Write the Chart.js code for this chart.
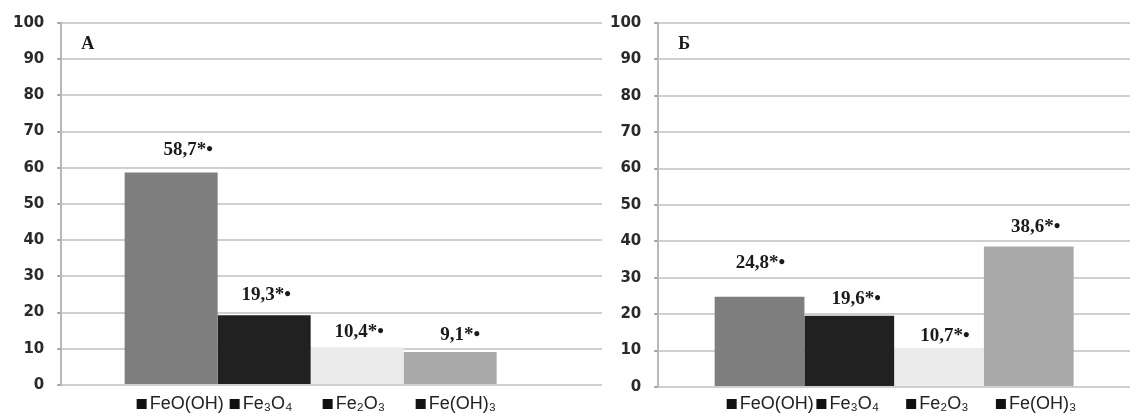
<!DOCTYPE html>
<html>
<head>
<meta charset="utf-8">
<script src="https://cdn.jsdelivr.net/npm/chart.js@4.4.0/dist/chart.umd.min.js"></script>
<style>
  html, body { margin: 0; padding: 0; background: #fff; }
  #wrap { position: relative; width: 1130px; height: 414px; overflow: hidden; }
  #chartA { position: absolute; left: 0; top: 0; }
  #chartB { position: absolute; left: 560px; top: 0; }
</style>
</head>
<body>
<div id="wrap">
  <canvas id="chartA" width="605" height="414"></canvas>
  <canvas id="chartB" width="570" height="414"></canvas>
</div>
<script>
// ---- data ----
const SERIES   = ["FeO(OH)", "Fe₃O₄", "Fe₂O₃", "Fe(OH)₃"];
const VALUES_A = [58.7, 19.3, 10.4, 9.1];
const VALUES_B = [24.8, 19.6, 10.7, 38.6];
const LABELS_A = ["58,7*•", "19,3*•", "10,4*•", "9,1*•"];
const LABELS_B = ["24,8*•", "19,6*•", "10,7*•", "38,6*•"];
const Y_TICKS  = [0, 10, 20, 30, 40, 50, 60, 70, 80, 90, 100];

const COLORS = ["#7e7e7e", "#212121", "#ebebeb", "#a9a9a9"];

// label placement tweaks (pixels), the source had hand-moved labels
const LIFT_A = [22, 20, 15, 17];
const SHIFT_A = [17, 2, 2, 10];
const LIFT_B = [34, 17, 12, 19];
const SHIFT_B = [1, 7, 6, 7];

// ---- plugins ----
const barLabels = {
  id: "barLabels",
  afterDatasetsDraw(chart, args, opts){
    const ctx = chart.ctx;
    ctx.save();
    ctx.font = "bold 19px 'Liberation Serif', 'Times New Roman', serif";
    ctx.fillStyle = "#1a1a1a";
    ctx.textAlign = "center";
    ctx.textBaseline = "middle";
    chart.data.datasets.forEach((ds, i) => {
      const bar = chart.getDatasetMeta(i).data[0];
      ctx.fillText(opts.texts[i], bar.x + opts.shift[i], bar.y - opts.lift[i]);
    });
    ctx.restore();
  }
};

const seriesKey = {
  id: "seriesKey",
  afterDraw(chart, args, opts){
    const ctx = chart.ctx;
    ctx.save();
    ctx.font = "18px 'Liberation Sans', Arial, sans-serif";
    ctx.textBaseline = "middle";
    ctx.textAlign = "left";
    chart.data.datasets.forEach((ds, i) => {
      const bar = chart.getDatasetMeta(i).data[0];
      const x = bar.x - bar.width / 2 + opts.inset;
      ctx.fillStyle = "#111";
      ctx.fillRect(x, opts.y - 5, 10, 10);
      ctx.fillStyle = "#222";
      ctx.fillText(ds.label, x + 13, opts.y);
    });
    ctx.restore();
  }
};

const panelMark = {
  id: "panelMark",
  afterDraw(chart, args, opts){
    const ctx = chart.ctx;
    ctx.save();
    ctx.font = "bold 18px 'Liberation Serif', 'Times New Roman', serif";
    ctx.fillStyle = "#1a1a1a";
    ctx.textBaseline = "middle";
    ctx.fillText(opts.text, chart.chartArea.left + 20, chart.chartArea.top + 21);
    ctx.restore();
  }
};

// left panel gridlines run a bit past its plot area
const gridTail = {
  id: "gridTail",
  beforeDatasetsDraw(chart, args, opts){
    if(!opts.length) return;
    const ctx = chart.ctx;
    const y = chart.scales.y;
    const right = chart.chartArea.right;
    ctx.save();
    ctx.strokeStyle = "#cfcfcf";
    ctx.lineWidth = 2;
    y.ticks.forEach(t => {
      const py = Math.round(y.getPixelForValue(t.value));
      ctx.beginPath();
      ctx.moveTo(right, py);
      ctx.lineTo(right + opts.length, py);
      ctx.stroke();
    });
    ctx.restore();
  }
};

function makeChart(canvas, values, texts, lift, shift, mark, pad, catPct, tail){
  return new Chart(canvas, {
    type: "bar",
    data: {
      labels: [mark],
      datasets: SERIES.map((name, i) => ({
        label: name,
        data: [values[i]],
        backgroundColor: COLORS[i],
        borderWidth: 0
      }))
    },
    options: {
      responsive: false,
      animation: false,
      devicePixelRatio: 1,
      layout: { padding: pad },
      datasets: { bar: { categoryPercentage: catPct, barPercentage: 1 } },
      scales: {
        x: { display: false },
        y: {
          min: 0,
          max: 100,
          afterBuildTicks: axis => { axis.ticks = Y_TICKS.map(v => ({ value: v })); },
          ticks: {
            padding: 13,
            color: "#2a2a2a",
            font: { family: "'DejaVu Sans', sans-serif", size: 15, weight: "bold" }
          },
          grid: { color: "#cfcfcf", lineWidth: 2, tickLength: 4, tickColor: "#a0a0a0" },
          border: { display: true, color: "#b8b8b8", width: 2 }
        }
      },
      plugins: {
        legend: { display: false },
        tooltip: { enabled: false },
        barLabels: { texts, lift, shift },
        seriesKey: { y: 404, inset: 12 },
        panelMark: { text: mark },
        gridTail: { length: tail }
      }
    },
    plugins: [gridTail, barLabels, seriesKey, panelMark]
  });
}

makeChart(document.getElementById("chartA"), VALUES_A, LABELS_A, LIFT_A, SHIFT_A, "А",
  { left: 0, right: 45, top: 23, bottom: 29 }, 0.746, 42);
makeChart(document.getElementById("chartB"), VALUES_B, LABELS_B, LIFT_B, SHIFT_B, "Б",
  { left: 37, right: 0, top: 23, bottom: 27 }, 0.761, 0);
</script>
</body>
</html>
